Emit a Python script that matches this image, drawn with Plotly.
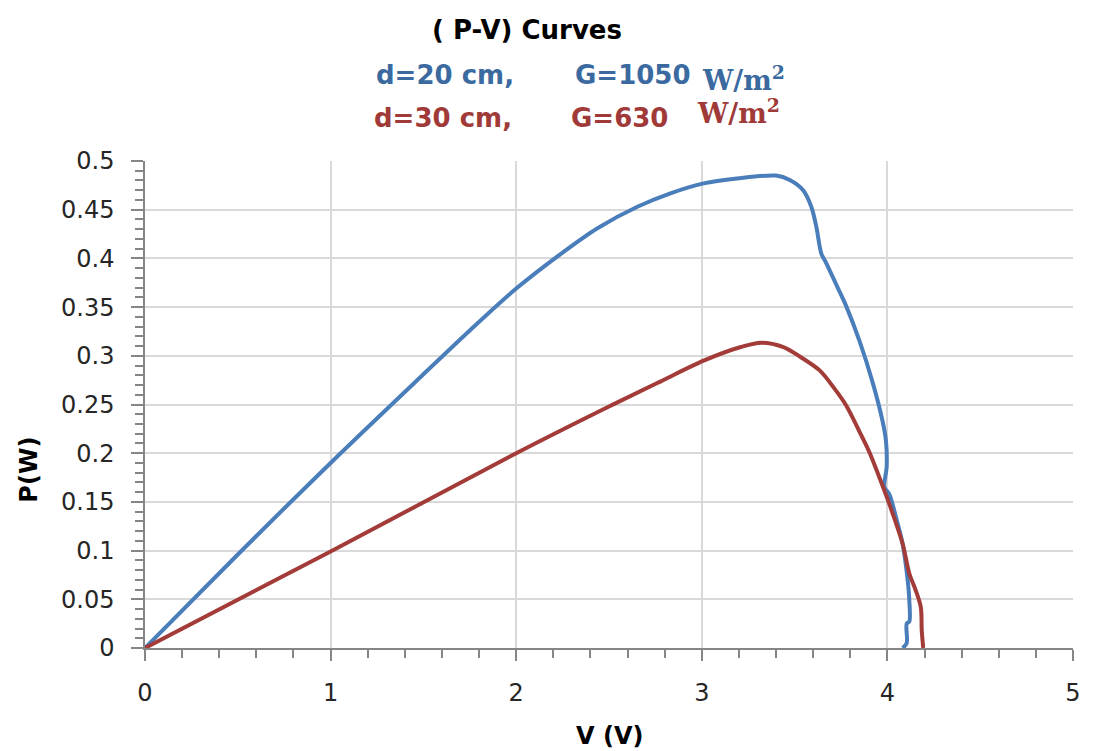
import plotly.graph_objects as go

# Blue series: d=20 cm, G=1050 W/m^2
v_blue = [0, 0.5, 1.0, 1.5, 1.75, 2.0, 2.25, 2.438, 2.653, 2.831, 3.01, 3.189, 3.4, 3.474, 3.546,
          3.59, 3.617, 3.644, 3.671, 3.742, 3.778, 3.85, 3.92, 3.975, 3.992, 3.996, 3.984,
          4.01, 4.046, 4.082, 4.109, 4.118, 4.118, 4.104, 4.104, 4.082]
p_blue = [0, 0.096, 0.19, 0.281, 0.326, 0.369, 0.406, 0.431, 0.453, 0.4668, 0.477, 0.482, 0.485, 0.4805, 0.47,
          0.453, 0.4326, 0.405, 0.395, 0.366, 0.351, 0.315, 0.273, 0.232, 0.213, 0.186, 0.165,
          0.158, 0.1345, 0.107, 0.07, 0.049, 0.027, 0.025, 0.005, 0]

# Red series: d=30 cm, G=630 W/m^2
v_red = [0, 1.0, 2.0, 2.5, 2.76, 3.01, 3.21, 3.32, 3.44, 3.53, 3.635, 3.72, 3.778,
         3.85, 3.903, 3.975, 4.01, 4.082, 4.118, 4.153, 4.18, 4.185, 4.193]
p_red = [0, 0.099, 0.2, 0.248, 0.272, 0.295, 0.309, 0.3135, 0.309, 0.299, 0.285, 0.265, 0.249,
         0.222, 0.201, 0.166, 0.148, 0.107, 0.0765, 0.059, 0.042, 0.018, 0]

x_ticks = [0, 1, 2, 3, 4, 5]
y_ticks = [0, 0.05, 0.1, 0.15, 0.2, 0.25, 0.3, 0.35, 0.4, 0.45, 0.5]
y_tick_labels = ["0", "0.05", "0.1", "0.15", "0.2", "0.25", "0.3", "0.35", "0.4", "0.45", "0.5"]

BLUE_LINE = "#4A7EBB"
RED_LINE = "#A33B39"
BLUE_TXT = "#3B6AA0"
RED_TXT = "#A03A38"
AXIS = "#868686"
GRID = "#D9D9D9"

fig = go.Figure()
fig.add_trace(go.Scatter(x=v_blue, y=p_blue, mode="lines",
                         line=dict(color=BLUE_LINE, width=4, shape="spline", smoothing=0.9),
                         showlegend=False))
fig.add_trace(go.Scatter(x=v_red, y=p_red, mode="lines",
                         line=dict(color=RED_LINE, width=4, shape="spline", smoothing=0.9),
                         showlegend=False))

W, H = 1093, 751
L, T = 145, 161
R = W - 1078
B = H - 648
pw, ph = W - L - R, H - T - B


def px(x):
    return (x - L) / pw


def py(y):
    return (H - B - y) / ph


fig.update_layout(
    width=W, height=H,
    margin=dict(l=L, r=R, t=T, b=B, pad=0),
    paper_bgcolor="white", plot_bgcolor="white",
    font=dict(family="DejaVu Sans", size=24, color="#262626"),
    xaxis=dict(range=[0, 5], tickvals=x_ticks, ticktext=[str(v) for v in x_ticks],
               showgrid=True, gridcolor=GRID, gridwidth=1.5,
               showline=True, linecolor=AXIS, linewidth=1.5,
               ticks="outside", ticklen=11, tickcolor=AXIS, tickwidth=1.5,
               ticklabelstandoff=11, ticklabeloverflow="allow", zeroline=False,
               minor=dict(ticks="outside", ticklen=8, dtick=0.2, tickcolor=AXIS,
                          tickwidth=1.5, showgrid=False)),
    yaxis=dict(range=[0, 0.5], tickvals=y_ticks, ticktext=y_tick_labels,
               showgrid=True, gridcolor=GRID, gridwidth=1.5,
               showline=True, linecolor=AXIS, linewidth=1.5,
               ticks="outside", ticklen=12, tickcolor=AXIS, tickwidth=1.5,
               ticklabelstandoff=12, ticklabeloverflow="allow", zeroline=False,
               minor=dict(ticks="outside", ticklen=8, dtick=0.01, tickcolor=AXIS,
                          tickwidth=1.5, showgrid=False)),
)

ann = []
bold = "DejaVu Sans"
serif = "DejaVu Serif"
ann.append(dict(text="<b>( P-V) Curves</b>", x=px(529), y=py(30), xanchor="center", yanchor="middle",
                font=dict(family=bold, size=26, color="#000000")))
ann.append(dict(text="<b>d=20 cm,</b>", x=px(375), y=py(75), xanchor="left", yanchor="middle",
                font=dict(family=bold, size=26, color=BLUE_TXT)))
ann.append(dict(text="<b>G=1050</b>", x=px(575), y=py(75), xanchor="left", yanchor="middle",
                font=dict(family=bold, size=26, color=BLUE_TXT)))
ann.append(dict(text="<b>W/m<sup>2</sup></b>", x=px(703), y=py(78), xanchor="left", yanchor="middle",
                font=dict(family=serif, size=27, color=BLUE_TXT)))
ann.append(dict(text="<b>d=30 cm,</b>", x=px(373), y=py(118), xanchor="left", yanchor="middle",
                font=dict(family=bold, size=26, color=RED_TXT)))
ann.append(dict(text="<b>G=630</b>", x=px(571), y=py(118), xanchor="left", yanchor="middle",
                font=dict(family=bold, size=26, color=RED_TXT)))
ann.append(dict(text="<b>W/m<sup>2</sup></b>", x=px(698), y=py(112), xanchor="left", yanchor="middle",
                font=dict(family=serif, size=27, color=RED_TXT)))
ann.append(dict(text="<b>V (V)</b>", x=px(612), y=py(736), xanchor="center", yanchor="middle",
                font=dict(family=bold, size=24, color="#000000")))
ann.append(dict(text="<b>P(W)</b>", x=px(28), y=py(470), xanchor="center", yanchor="middle",
                textangle=-90, font=dict(family=bold, size=24, color="#000000")))

for a in ann:
    a.update(xref="paper", yref="paper", showarrow=False)
fig.update_layout(annotations=ann)

fig.write_html("out.html", config={"displayModeBar": False},
               post_script="document.body.style.margin='0';document.body.style.overflow='hidden';")
